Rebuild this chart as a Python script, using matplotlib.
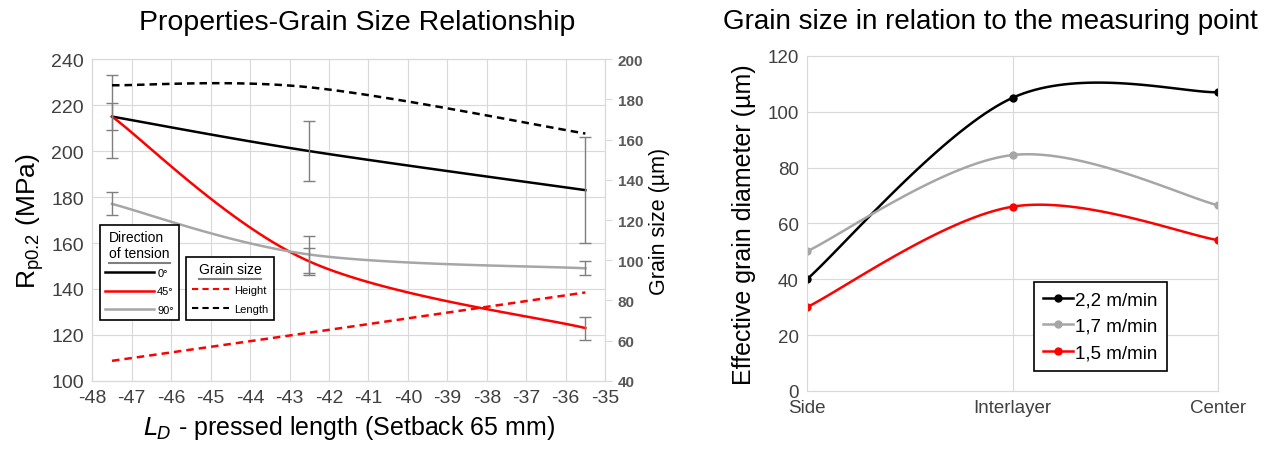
import numpy as np
import matplotlib
matplotlib.use("Agg")
import matplotlib.pyplot as plt
from matplotlib.lines import Line2D

plt.rcParams['font.family'] = ['Liberation Sans', 'DejaVu Sans']
plt.rcParams['axes.unicode_minus'] = False

# ----- left chart data -----
ld = [-47.5, -42.5, -35.5]
rp_0 = [215, 200, 183]
rp_0_err = [18, 13, 23]
rp_45 = [215, 152, 123]
rp_45_err = [6, 6, 5]
rp_90 = [177, 155, 149]
rp_90_err = [5, 8, 3]
grain_height = [50, 64, 84]
grain_length = [187, 186, 163]

# ----- right chart data -----
positions = ["Side", "Interlayer", "Center"]
d_22 = [40, 105, 107]
d_17 = [50, 84.5, 66.5]
d_15 = [30, 66, 54]

GRID = "#d9d9d9"
TICK = "#404040"
ERR = "#7f7f7f"
GREY = "#a6a6a6"


def smooth(x, y, n=40):
    """Excel-like smoothed line (Catmull-Rom as cubic Bezier)."""
    p = np.column_stack([x, y]).astype(float)
    pts = np.vstack([p[0], p, p[-1]])
    out = []
    t = np.linspace(0, 1, n)[:, None]
    for i in range(1, len(pts) - 2):
        p0, p1, p2, p3 = pts[i - 1], pts[i], pts[i + 1], pts[i + 2]
        c1 = p1 + (p2 - p0) / 6
        c2 = p2 - (p3 - p1) / 6
        seg = ((1 - t) ** 3) * p1 + 3 * ((1 - t) ** 2) * t * c1 \
            + 3 * (1 - t) * t ** 2 * c2 + t ** 3 * p2
        out.append(seg if i == 1 else seg[1:])
    s = np.vstack(out)
    return s[:, 0], s[:, 1]


fig = plt.figure(figsize=(12.82, 4.52), dpi=100)

# ===== left =====
ax = fig.add_axes([0.072, 0.155, 0.400, 0.712])
ax2 = ax.twinx()

ax.set_xlim(-48, -35)
ax.set_ylim(100, 240)
ax.set_xticks(range(-48, -34))
ax.set_yticks(range(100, 241, 20))
ax.grid(True, color=GRID, lw=0.8)
ax.set_axisbelow(True)
ax2.set_ylim(40, 200)
ax2.set_yticks(range(40, 201, 20))

for a in (ax, ax2):
    for sp in a.spines.values():
        sp.set_color(GRID)
ax.tick_params(length=0, labelsize=14, colors=TICK, pad=6)
ax2.tick_params(axis="y", length=5, direction="out", color=GRID,
                labelsize=11, labelcolor="#595959", pad=4)
for lab in ax2.get_yticklabels():
    lab.set_fontweight("bold")

for vals, err, col in [(rp_0, rp_0_err, "black"), (rp_45, rp_45_err, "red"),
                       (rp_90, rp_90_err, GREY)]:
    sx, sy = smooth(ld, vals)
    ax.plot(sx, sy, color=col, lw=1.8)
    ax.errorbar(ld, vals, yerr=err, fmt="none", ecolor=ERR, elinewidth=1,
                capsize=4, capthick=1)

sx, sy = smooth(ld, grain_height)
ax2.plot(sx, sy, color="red", lw=1.8, ls=(0, (3, 2)))
sx, sy = smooth(ld, grain_length)
ax2.plot(sx, sy, color="black", lw=1.8, ls=(0, (3, 2)))

ax.set_title("Properties-Grain Size Relationship", fontsize=20.5, pad=22, x=0.517)
ax.set_ylabel(r"R$_{\mathregular{p0.2}}$ (MPa)", fontsize=19, labelpad=4)
ax.set_xlabel(r"$L_D$ - pressed length (Setback 65 mm)", fontsize=18, labelpad=5)
ax2.set_ylabel("Grain size (µm)", fontsize=15.5, labelpad=4)

h1 = [Line2D([], [], color="black", lw=1.8),
      Line2D([], [], color="red", lw=1.8),
      Line2D([], [], color=GREY, lw=1.8)]
leg1 = ax2.legend(h1, ["0°", "45°", "90°"], title="Direction\nof tension",
                  loc="lower left", bbox_to_anchor=(0.015, 0.19), fontsize=8,
                  title_fontsize=10, fancybox=False, edgecolor="black",
                  framealpha=1, handlelength=4.4, handletextpad=0.3,
                  borderpad=0.45, labelspacing=0.75, borderaxespad=0)
leg1.get_frame().set_linewidth(1.2)
ax2.add_artist(leg1)
h2 = [Line2D([], [], color="red", lw=1.5, ls=(0, (3, 2))),
      Line2D([], [], color="black", lw=1.5, ls=(0, (3, 2)))]
leg2 = ax2.legend(h2, ["Height", "Length"], title="Grain size",
                  loc="lower left", bbox_to_anchor=(0.183, 0.19), fontsize=8,
                  title_fontsize=10, fancybox=False, edgecolor="black",
                  framealpha=1, handlelength=3.4, handletextpad=0.4,
                  borderpad=0.5, labelspacing=0.8, borderaxespad=0)
leg2.get_frame().set_linewidth(1.2)

# ===== right =====
bx = fig.add_axes([0.6295, 0.133, 0.3206, 0.741])
xp = np.arange(len(positions))
for vals, col in [(d_22, "black"), (d_17, GREY), (d_15, "red")]:
    sx, sy = smooth(xp, vals)
    bx.plot(sx, sy, color=col, lw=1.8)
    bx.plot(xp, vals, "o", color=col, ms=5)
bx.set_xlim(0, 2)
bx.set_ylim(0, 120)
bx.set_xticks(xp)
bx.set_xticklabels(positions)
bx.set_yticks(range(0, 121, 20))
bx.grid(True, color=GRID, lw=0.8)
bx.set_axisbelow(True)
for sp in bx.spines.values():
    sp.set_color(GRID)
bx.tick_params(length=0, labelsize=13.5, colors=TICK, pad=6)
bx.set_title("Grain size in relation to the measuring point", fontsize=20,
             pad=20, x=0.445)
bx.set_ylabel("Effective grain diameter (µm)", fontsize=18, labelpad=8)

h3 = [Line2D([], [], color=c, lw=1.8, marker="o", ms=5)
      for c in ("black", GREY, "red")]
leg3 = bx.legend(h3, ["2,2 m/min", "1,7 m/min", "1,5 m/min"], loc="lower right",
                 bbox_to_anchor=(0.876, 0.06), fontsize=13.5, fancybox=False,
                 edgecolor="black", framealpha=1, handlelength=1.6,
                 handletextpad=0.1, borderpad=0.5, labelspacing=0.5,
                 borderaxespad=0)
leg3.get_frame().set_linewidth(1.2)

# underline the legend titles on the left chart
fig.canvas.draw()
renderer = fig.canvas.get_renderer()
for leg in (leg1, leg2):
    tb = leg.get_title().get_window_extent(renderer)
    y = tb.y0 - 3
    fig.add_artist(Line2D([tb.x0, tb.x1], [y, y], transform=None,
                          color="#7f7f7f", lw=1.5))

fig.savefig("out.png", dpi=100)
